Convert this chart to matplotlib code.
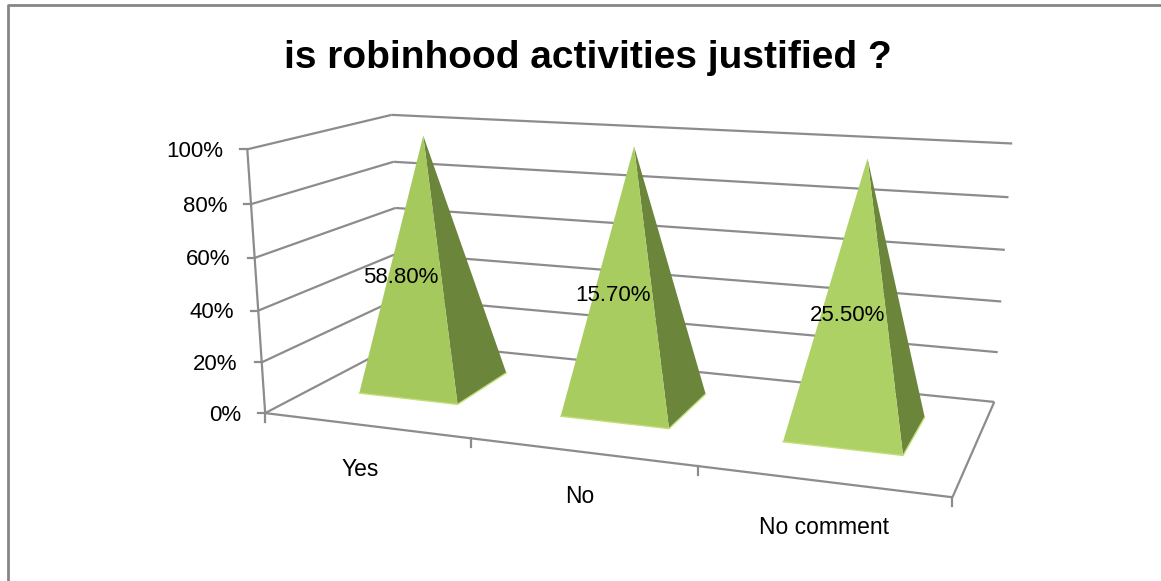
import numpy as np
from matplotlib import pyplot as plt
from matplotlib.patches import Polygon

plt.rcParams['font.family'] = ['Liberation Sans', 'DejaVu Sans']

categories = ['Yes', 'No', 'No comment']
share_labels = ['58.80%', '15.70%', '25.50%']
pyramid_heights = [100, 100, 100]  # 100% stacked, every pyramid reaches the top
value_ticks = [0, 20, 40, 60, 80, 100]
tick_labels = ['0%', '20%', '40%', '60%', '80%', '100%']
title = 'is robinhood activities justified ?'

# box corners (category, depth, value) and where they sit on the canvas
box = np.array([[0, 0, 0], [0, 0, 100], [0, 1, 0], [0, 1, 100],
                [3, 1, 0], [3, 1, 100], [3, 0, 0]], dtype=float)
canvas = np.array([[265, 410], [247, 151], [401, 345], [392, 113],
                   [994, 400], [1012, 144], [953, 499]], dtype=float)


def fit_camera(world, screen):
    rows = []
    rhs = []
    for (x, y, z), (u, v) in zip(world, screen):
        rows.append([x, y, z, 1, 0, 0, 0, 0, -u * x, -u * y, -u * z])
        rows.append([0, 0, 0, 0, x, y, z, 1, -v * x, -v * y, -v * z])
        rhs += [u, v]
    p = np.linalg.lstsq(np.array(rows), np.array(rhs), rcond=None)[0]
    return np.append(p, 1).reshape(3, 4)


cam = fit_camera(box, canvas)


def proj(x, y, z):
    u, v, w = cam @ np.array([x, y, z, 1.0])
    return u / w, v / w


fig = plt.figure(figsize=(11.61, 5.81), dpi=100)
ax = fig.add_axes([0, 0, 1, 1])
ax.set_xlim(0, 1161)
ax.set_ylim(581, 0)
ax.axis('off')

grid_c = '#8c8c8c'


def line3d(a, b, lw=1.6):
    pa, pb = proj(*a), proj(*b)
    ax.plot([pa[0], pb[0]], [pa[1], pb[1]], color=grid_c, lw=lw, zorder=1,
            solid_capstyle='butt')


# chart frame
ax.plot([8, 8, 1161], [581, 5, 5], color='#868686', lw=2, zorder=1)

# walls and floor
for v, lab in zip(value_ticks, tick_labels):
    line3d((0, 0, v), (0, 1, v))
    line3d((0, 1, v), (3, 1, v))
    fx, fy = proj(0, 0, v)
    ax.plot([fx - 7, fx], [fy, fy], color=grid_c, lw=1.6, zorder=1)
    ax.text(fx - 24, fy + 2, lab, ha='right', va='center', fontsize=16)
line3d((0, 0, 0), (0, 0, 100))
line3d((0, 0, 0), (3, 0, 0))
line3d((3, 0, 0), (3, 1, 0))

for i in range(4):
    fx, fy = proj(i, 0, 0)
    ax.plot([fx, fx], [fy, fy + 9], color=grid_c, lw=1.6, zorder=1)

# pyramids
half_w = 0.25
d0, d1 = 0.32, 0.74
front_cols = ['#A6C95E', '#A9CC60', '#AED166']
for i, h in enumerate(pyramid_heights):
    c = i + 0.5
    apex = proj(c, 0.5, h)
    fl = proj(c - half_w - 0.008, d0, 0)
    fr = proj(c + half_w - 0.008, d0, 0)
    br = proj(c + half_w - 0.008, d1, 0)
    ax.add_patch(Polygon([fr, br, apex], closed=True, fc='#6B853B', ec='none', zorder=2))
    ax.add_patch(Polygon([fl, fr, apex], closed=True, fc=front_cols[i], ec='none', zorder=3))
    ax.plot([fl[0], fr[0], br[0]], [fl[1], fr[1], br[1]], color='#C3DE78', lw=1, zorder=4)

    lx, ly = proj(c, 0.3, 50)
    ax.text(lx - 1, ly + 3, share_labels[i], ha='center', va='center', fontsize=16, zorder=5)

    tx, ty = proj(c, -0.1, 0)
    ax.text(tx + 10, ty + 35, categories[i], ha='center', va='center', fontsize=16.5)

ax.text(588, 58, title, ha='center', va='center', fontsize=28, fontweight='bold')

plt.savefig('out.png', dpi=100)
